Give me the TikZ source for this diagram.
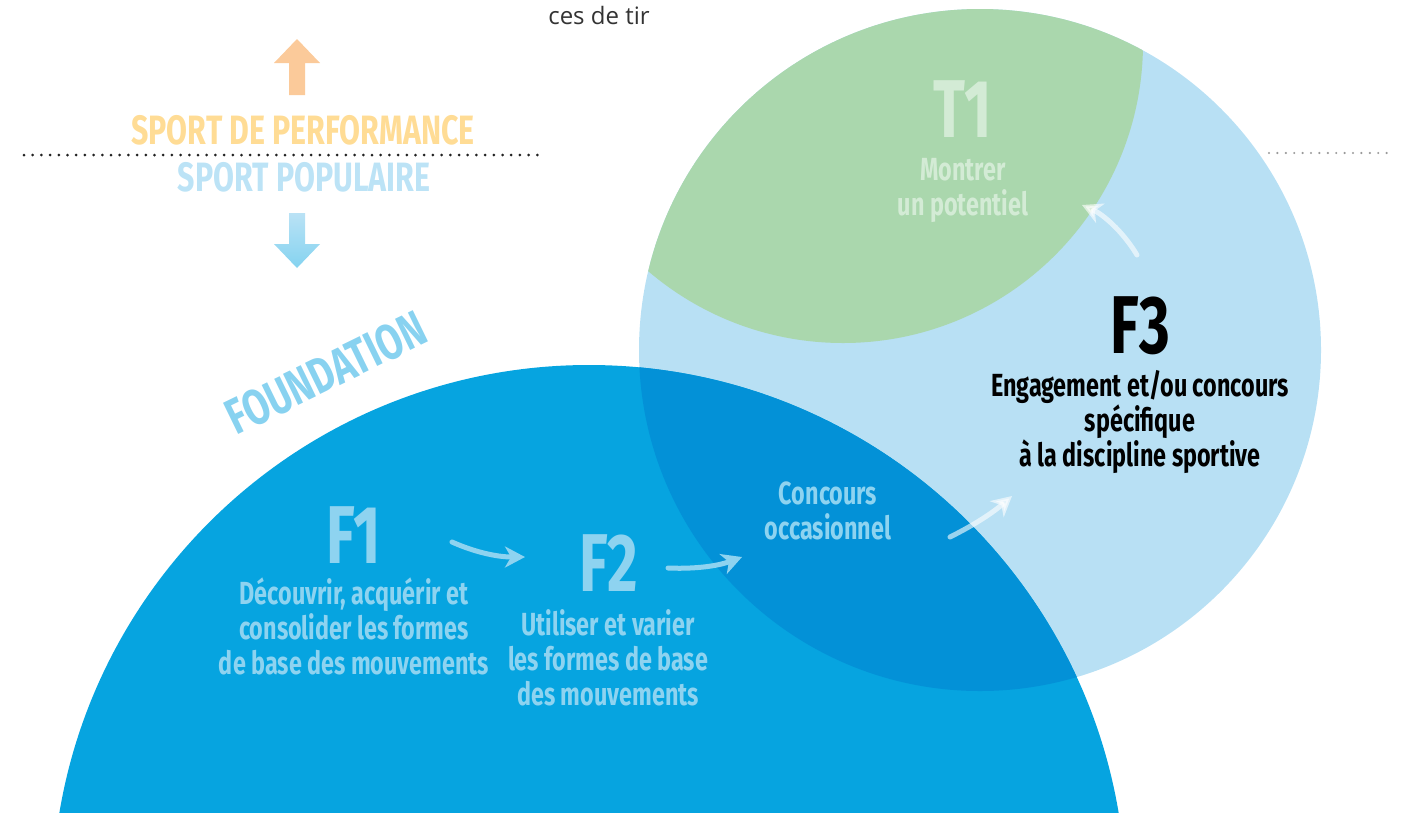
\documentclass[tikz,border=0pt]{standalone}
\usepackage{fontspec}
\usetikzlibrary{arrows.meta}
\newfontfamily\cond[FakeStretch=0.73]{Fira Sans}
\newfontfamily\condsport[FakeStretch=0.74]{Fira Sans}
\newfontfamily\condbig[FakeStretch=0.72]{Fira Sans}
\newfontfamily\topfont{Open Sans}
\definecolor{bigblue}{HTML}{06A4E0}
\definecolor{darkint}{HTML}{0391D7}
\definecolor{lightblue}{HTML}{B8E0F4}
\definecolor{greenzone}{HTML}{AAD7AD}
\definecolor{textblue}{HTML}{8ED3F0}
\definecolor{tonetext}{HTML}{D3EBD5}
\definecolor{orangearrow}{HTML}{FBCA9A}
\definecolor{orangetext}{HTML}{FFDC95}
\definecolor{poptext}{HTML}{BCE3F6}
\definecolor{foundtext}{HTML}{88D2F0}
\definecolor{downtop}{HTML}{BAE2F5}
\definecolor{downbot}{HTML}{84D3F0}
\definecolor{topgray}{HTML}{333333}
\definecolor{dotdark}{HTML}{222222}
\definecolor{dotgray}{HTML}{9A9A9A}
\begin{document}
\begin{tikzpicture}[x=1pt,y=-1pt,
  bigletter/.style={font=\condbig\bfseries\fontsize{82}{82}\selectfont, inner sep=0pt},
  bodytext/.style={font=\cond\bfseries\fontsize{32}{35}\selectfont, align=center, inner sep=0pt},
  flowarrow/.style={line width=5pt, line cap=round, -{Stealth[length=20pt,width=21pt,inset=6pt]}},
  dotline/.style={line width=3pt, line cap=round, dash pattern=on 0pt off 8.7pt}
]
\useasboundingbox (0,0) rectangle (1404,812);
\begin{scope}
  \clip (0,0) rectangle (1404,812);
  \fill[lightblue] (980,350) circle[radius=341pt];
  \begin{scope}
    \clip (980,350) circle[radius=341pt];
    \fill[greenzone] (843,43) circle[radius=300pt];
  \end{scope}
  \fill[bigblue] (589,902) circle[radius=537pt];
  \begin{scope}
    \clip (589,902) circle[radius=537pt];
    \fill[darkint] (980,350) circle[radius=341pt];
  \end{scope}
\end{scope}

% top text
\node[font=\topfont\fontsize{24}{24}\selectfont, text=topgray] (cestir) at (599,15) {ces de tir};

% up / down arrows
\fill[orangearrow] (297,39) -- (320,63) -- (305,63) -- (305,95) -- (289,95) -- (289,63) -- (274,63) -- cycle;
\shade[top color=downtop, bottom color=downbot] (289,213) -- (305,213) -- (305,244) -- (320,244) -- (297,268) -- (274,244) -- (289,244) -- cycle;

% dotted lines
\coordinate (dlA) at (24,155);
\coordinate (dlB) at (538,155);
\draw[dotline, dotdark] (dlA) -- (dlB);
\coordinate (drA) at (1269,153);
\coordinate (drB) at (1387,153);
\draw[dotline, dotgray, line width=2.4pt, dash pattern=on 0pt off 8.4pt] (drA) -- (drB);

\node[font=\condsport\bfseries\fontsize{41}{41}\selectfont, text=orangetext, inner sep=0pt] (perf) at (303,130) {SPORT DE PERFORMANCE};
\node[font=\condsport\bfseries\fontsize{41}{41}\selectfont, text=poptext, inner sep=0pt] (pop) at (304,177) {SPORT POPULAIRE};

\node[font=\condsport\bfseries\fontsize{50}{50}\selectfont, text=foundtext, rotate=26, inner sep=0pt] (found) at (326,373) {FOUNDATION};

% F1
\node[bigletter, text=textblue] (F1) at (354,535) {F1};
\node[bodytext, text=textblue] (F1t) at (354,626) {Découvrir, acquérir et\\consolider les formes\\de base des mouvements};
% F2
\node[bigletter, text=textblue] (F2) at (609,563) {F2};
\node[bodytext, text=textblue] (F2t) at (608,658) {Utiliser et varier\\les formes de base\\des mouvements};
% Concours
\node[bodytext, text=textblue] (conc) at (828,511) {Concours\\occasionnel};
% T1
\node[bigletter, text=tonetext] (T1) at (963,109) {T1};
\node[bodytext, text=tonetext] (T1t) at (963,190) {Montrer\\un potentiel};
% F3
\node[bigletter, text=black] (F3) at (1140,326) {F3};
\node[bodytext, text=black] (F3t) at (1140,422) {Engagement et/ou concours\\spécifique\\à la discipline sportive};

% arrows
\coordinate (a1s) at (452,542); \coordinate (a1e) at (525,557);
\draw[flowarrow, textblue] (a1s) .. controls (472,551) and (495,557) .. (a1e);
\coordinate (a2s) at (668,568); \coordinate (a2e) at (742,557);
\draw[flowarrow, textblue] (a2s) .. controls (690,569) and (715,567) .. (a2e);
\coordinate (a3s) at (950,537); \coordinate (a3e) at (1012,496);
\draw[flowarrow, white, opacity=0.6] (a3s) .. controls (970,527) and (990,515) .. (a3e);
\coordinate (a4s) at (1137,255); \coordinate (a4e) at (1082,205);
\draw[flowarrow, white, opacity=0.6] (a4s) .. controls (1122,230) and (1102,214) .. (a4e);
\end{tikzpicture}
\end{document}
